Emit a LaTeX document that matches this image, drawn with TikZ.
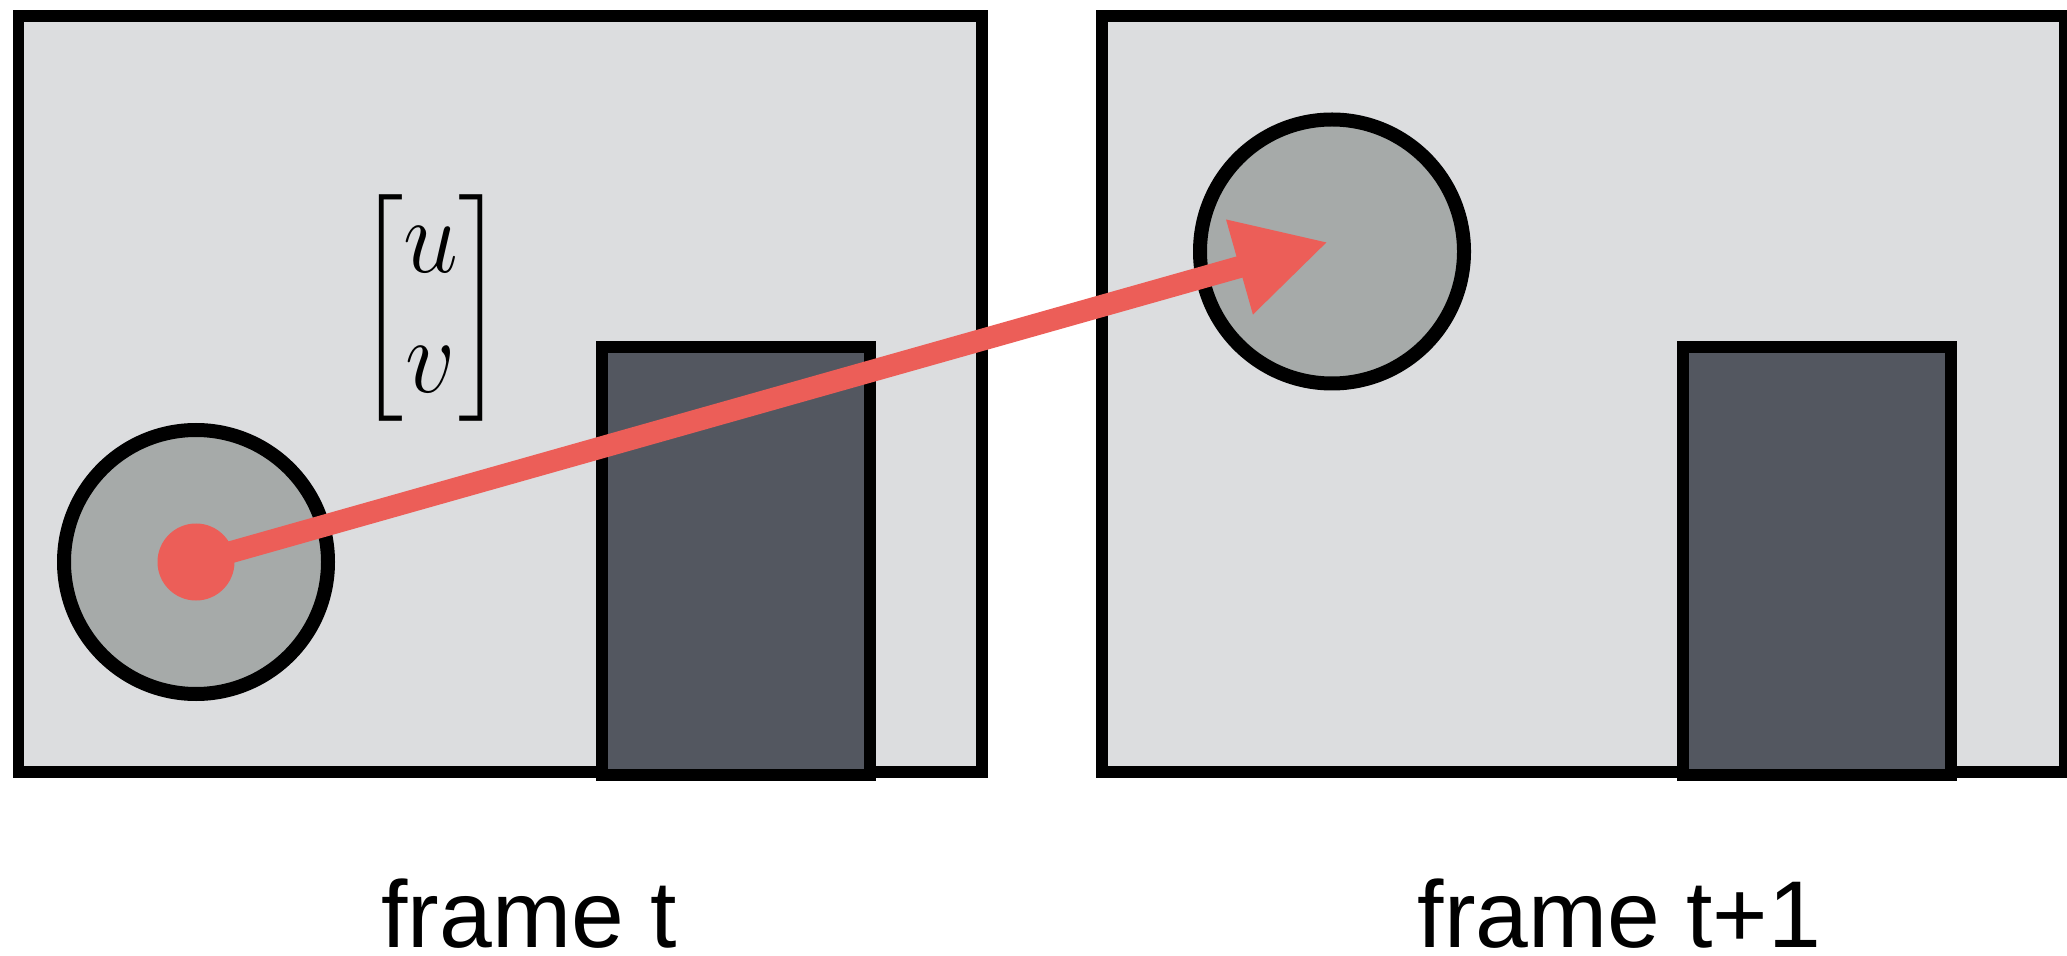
\RequirePackage{fix-cm}
\documentclass[tikz,border=0pt]{standalone}
\usepackage{amsmath}
\usepackage{fontspec}
\usepackage{tikz}
\usetikzlibrary{arrows.meta}
\newfontfamily\labelfont{Liberation Sans}
\definecolor{framegray}{RGB}{220,221,223}
\definecolor{ballgray}{RGB}{166,170,169}
\definecolor{blockgray}{RGB}{83,87,96}
\definecolor{flowred}{RGB}{236,94,88}

\begin{document}
\begin{tikzpicture}
 [frame box/.style={node distance=10.83cm, rectangle,fill=framegray,draw,line width=0.12cm,minimum width=9.63cm,minimum height=7.555cm,inner sep=0pt},
  block node/.style={node distance=10.805cm, rectangle,fill=blockgray,draw,line width=0.12cm,minimum width=2.68cm,minimum height=4.275cm,inner sep=0pt},
  ball node/.style={circle,fill=ballgray,draw,line width=0.14cm,minimum size=2.64cm,inner sep=0pt},
  dot node/.style={circle,fill=flowred,minimum size=0.77cm,inner sep=0pt},
  caption/.style={anchor=base,font=\labelfont\fontsize{27}{32}\selectfont}]

\useasboundingbox (0,0) rectangle (20.67,-9.56);

\node[frame box] (f1) at (5.00,-3.9375) {};
   \node[frame box] (f2) [right of=f1] {};

\node[ball node] (ball1) at (1.96,-5.62) {};
 \node[ball node] (ball2) at (13.32,-2.515) {};

\node[block node] (b1) at (7.36,-5.6125) {};
 \node[block node] (b2) [right of=b1] {};

  \node[dot node] (dot) at (ball1.center) {};
  \coordinate (flowend) at (13.28,-2.42);

\node (uv) at (4.31,-3.085) {\scalebox{1}[1.08]{\fontsize{28}{31.8}\selectfont \delimitershortfall=12pt $\begin{bmatrix} u\\ v \end{bmatrix}$}};

\path
  (dot.center) edge [draw=flowred, line width=0.22cm, -{Triangle[length=0.92cm,width=0.92cm]}] (flowend);

\node[caption] (cap1) at (5.29,-9.47) {frame t};
\node[caption] (cap2) at (16.195,-9.47) {frame t+1};

\end{tikzpicture}
\end{document}
